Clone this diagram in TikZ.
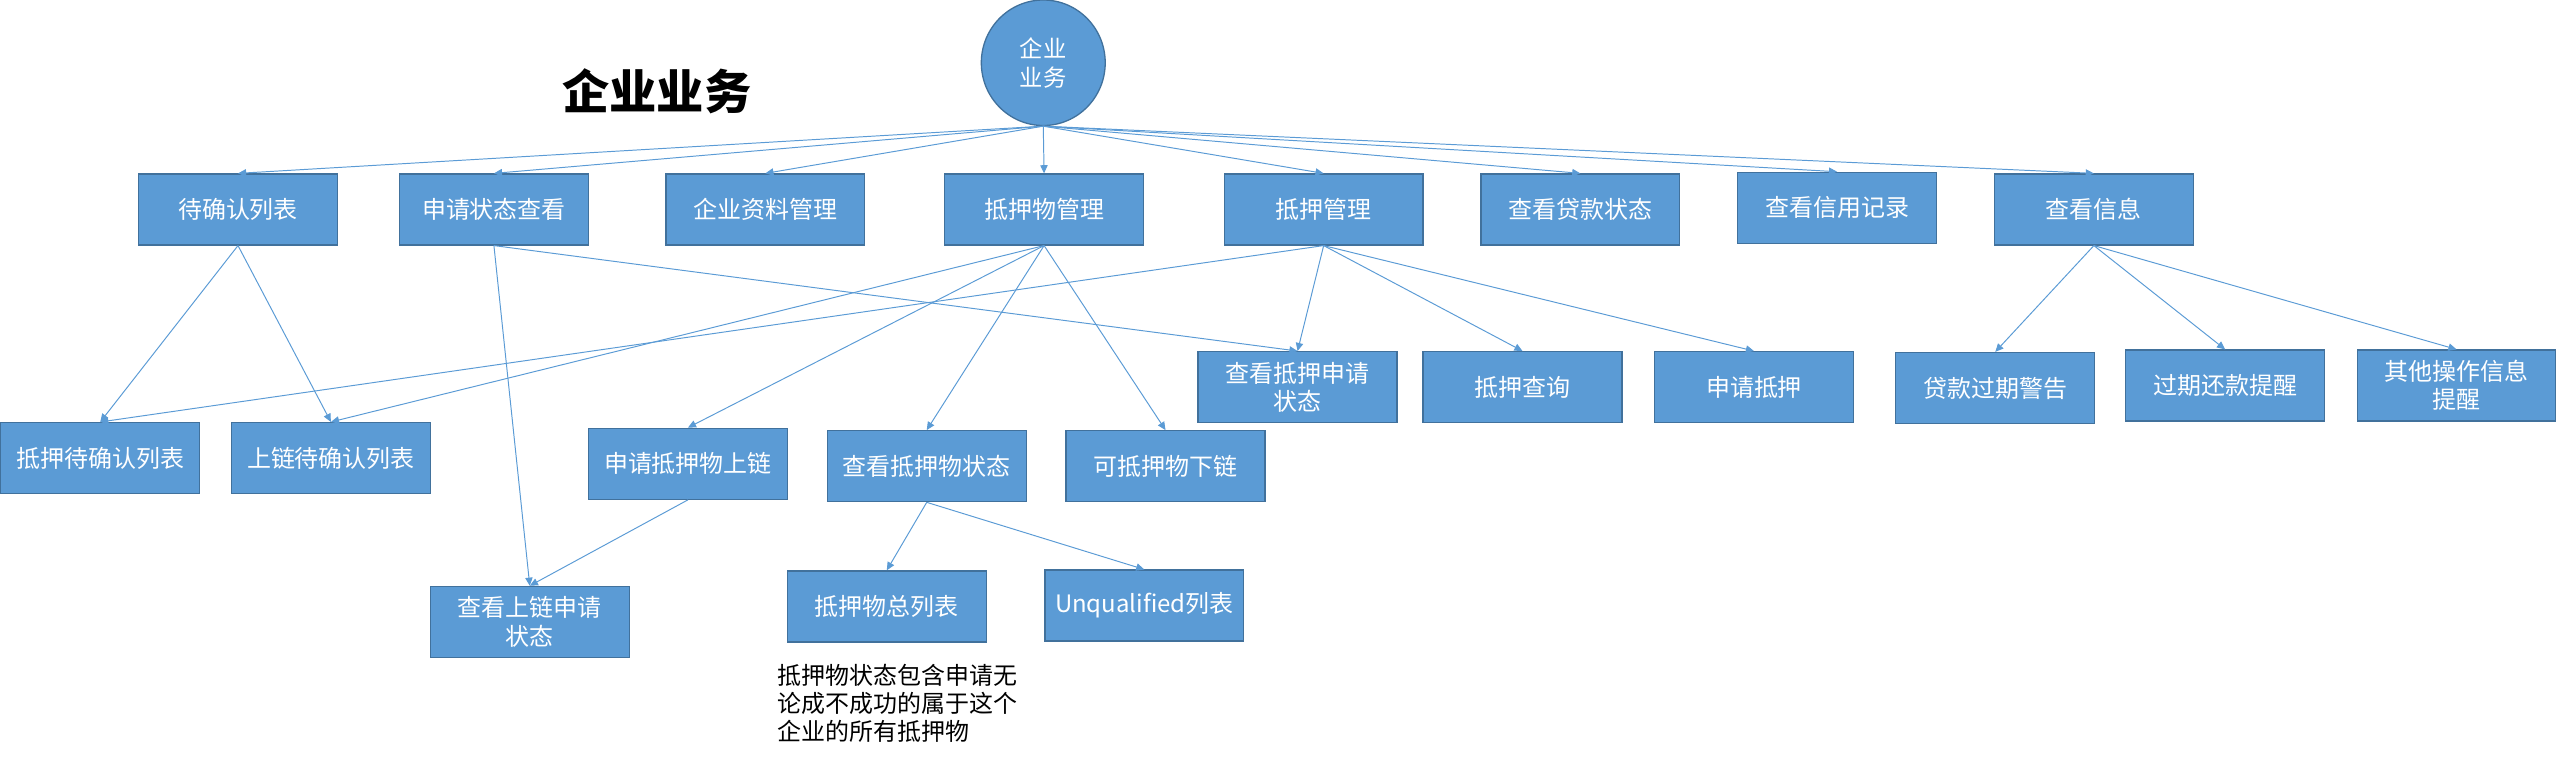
\documentclass[tikz,border=0pt]{standalone}
\usepackage{fontspec}
\setmainfont{Noto Sans CJK SC}
\usetikzlibrary{arrows.meta,positioning,shapes.geometric}
\definecolor{boxfill}{HTML}{5B9BD5}
\definecolor{boxline}{HTML}{41719C}
\definecolor{edgecol}{HTML}{5B9BD5}
\tikzset{
  bx/.style={draw=boxline, line width=0.8pt, fill=boxfill, text=white,
    minimum width=122pt, minimum height=43.5pt, inner sep=2pt,
    align=center, font=\fontsize{14.7}{17.4}\selectfont},
  conn/.style={draw=edgecol, line width=0.6pt,
    -{Triangle[length=5pt,width=4.5pt]}},
}
\begin{document}
\begin{tikzpicture}[x=1pt,y=-1pt]
\useasboundingbox (0,0) rectangle (1568,469);
% root
\node[draw=boxline, line width=0.8pt, fill=boxfill, text=white, ellipse,
  minimum width=76pt, minimum height=77pt, inner sep=0pt, align=center,
  font=\fontsize{14.3}{17.6}\selectfont] (root) at (640,38.5) {企业\\业务};
\node[font=\fontsize{29}{32}\selectfont\bfseries, inner sep=0pt] (title) at (403,56) {企业业务};
% top row
\node[bx] (a1) at (146,128.5) {待确认列表};
\node[bx, minimum width=116pt] (a2) at (303,128.5) {申请状态查看};
\node[bx] (a3) at (469.5,128.5) {企业资料管理};
\node[bx] (a4) at (640.5,128.5) {抵押物管理};
\node[bx] (a5) at (812,128.5) {抵押管理};
\node[bx] (a6) at (969.5,128.5) {查看贷款状态};
\node[bx] (a7) at (1127,127.5) {查看信用记录};
\node[bx] (a8) at (1284.5,128.5) {查看信息};
% second level
\node[bx] (b1) at (61.5,281) {抵押待确认列表};
\node[bx] (b2) at (203,281) {上链待确认列表};
\node[bx] (b3) at (422,284.5) {申请抵押物上链};
\node[bx] (b4) at (568.5,286) {查看抵押物状态};
\node[bx] (b5) at (715,286) {可抵押物下链};
\node[bx] (b6) at (796,237.5) {查看抵押申请\\状态};
\node[bx] (b7) at (934,237.5) {抵押查询};
\node[bx] (b8) at (1076,237.5) {申请抵押};
\node[bx] (b9) at (1224,238) {贷款过期警告};
\node[bx] (b10) at (1365,236.5) {过期还款提醒};
\node[bx] (b11) at (1507,236.5) {其他操作信息\\提醒};
% third level
\node[bx] (c1) at (325,381.5) {查看上链申请\\状态};
\node[bx] (c2) at (544,372) {抵押物总列表};
\node[bx] (c3) at (702,371.5) {Unqualified列表};
% note
\node[anchor=north west, inner sep=0pt, align=left,
  font=\fontsize{14.7}{17.2}\selectfont] (note) at (477,407)
  {抵押物状态包含申请无\\论成不成功的属于这个\\企业的所有抵押物};
% connectors
\foreach \t in {a1,a2,a3,a4,a5,a6,a7,a8}
  \draw[conn] (root.south) -- (\t.north);
\draw[conn] (a1.south) -- (b1.north);
\draw[conn] (a1.south) -- (b2.north);
\draw[conn] (a2.south) -- (c1.north);
\draw[conn] (a2.south) -- (b6.north);
\draw[conn] (a4.south) -- (b2.north);
\draw[conn] (a4.south) -- (b3.north);
\draw[conn] (a4.south) -- (b4.north);
\draw[conn] (a4.south) -- (b5.north);
\draw[conn] (a5.south) -- (b1.north);
\draw[conn] (a5.south) -- (b6.north);
\draw[conn] (a5.south) -- (b7.north);
\draw[conn] (a5.south) -- (b8.north);
\draw[conn] (a8.south) -- (b9.north);
\draw[conn] (a8.south) -- (b10.north);
\draw[conn] (a8.south) -- (b11.north);
\draw[conn] (b3.south) -- (c1.north);
\draw[conn] (b4.south) -- (c2.north);
\draw[conn] (b4.south) -- (c3.north);
\end{tikzpicture}
\end{document}
